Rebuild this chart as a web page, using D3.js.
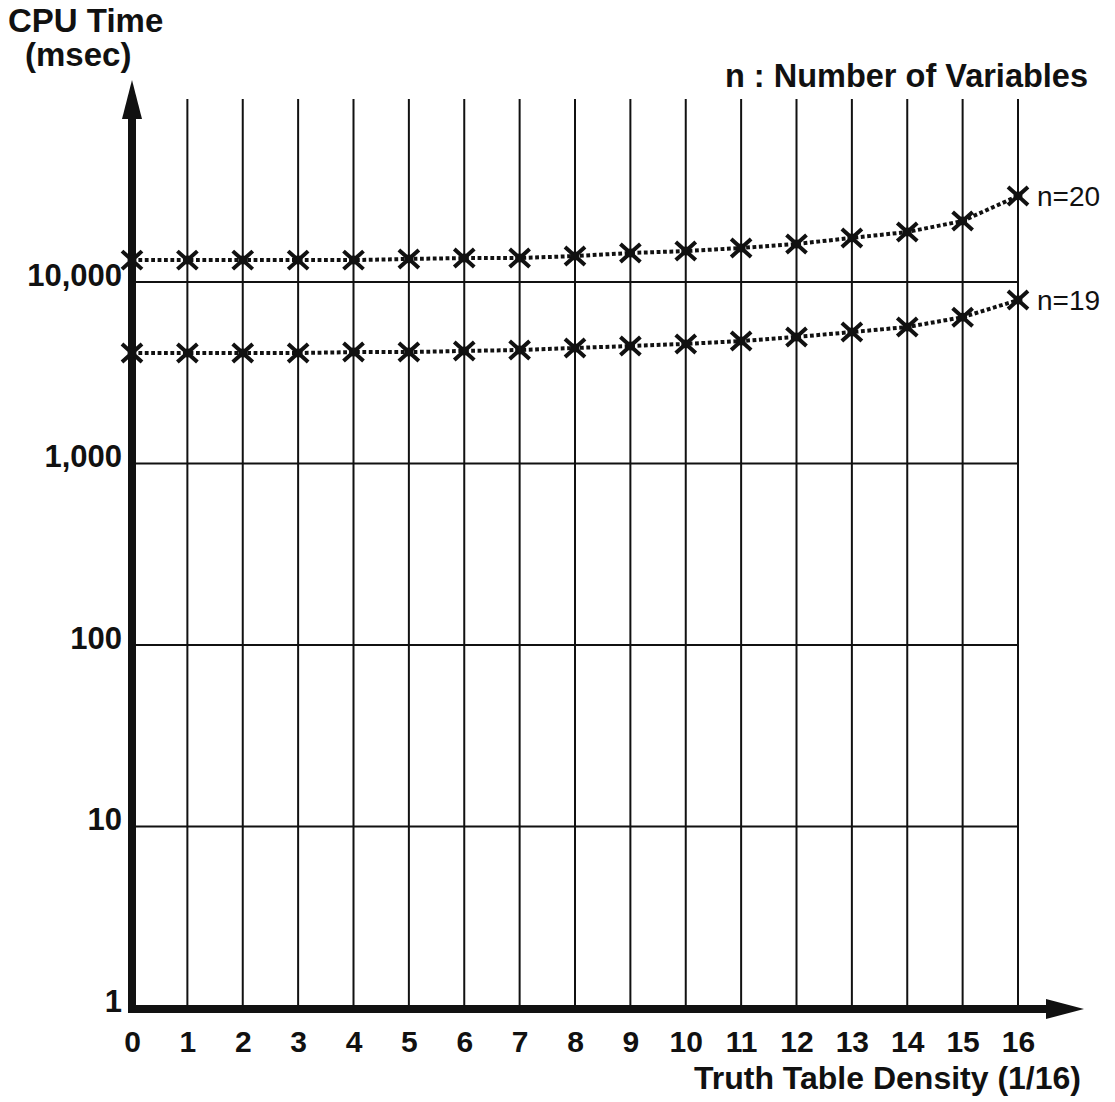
<!DOCTYPE html>
<html>
<head>
<meta charset="utf-8">
<script src="https://cdn.jsdelivr.net/npm/d3@7"></script>
<style>
  body { margin: 0; background: #fff; }
  text { font-family: "Liberation Sans", Arial, Helvetica, sans-serif; fill: #111; }
</style>
</head>
<body>
<div id="chart"></div>
<script>
// density steps (x 1/16)
const density = d3.range(0, 17);
const yTicks = [1, 10, 100, 1000, 10000];
const yTickLabels = ["1", "10", "100", "1,000", "10,000"];

// CPU time in msec
const n20 = [13200, 13200, 13200, 13200, 13200, 13400, 13550, 13550, 13900, 14450, 14800, 15400, 16200, 17500, 18850, 21700, 29800];
const n19 = [4060, 4060, 4060, 4060, 4110, 4110, 4170, 4220, 4330, 4440, 4560, 4730, 4980, 5300, 5650, 6400, 7950];
const seriesNames = ["n=20", "n=19"];

document.addEventListener('DOMContentLoaded', function() {
    const W = 1115, H = 1102;
    const svg = d3.select('#chart').append('svg')
        .attr('width', W)
        .attr('height', H);

    const x = d3.scaleLinear().domain([0, 16]).range([132, 1018]);
    const y = d3.scaleLog().domain([1, 10000]).range([1008, 282]);
    const gridTop = 99;

    // vertical grid
    svg.append('g').selectAll('line')
        .data(density.slice(1))
        .enter().append('line')
        .attr('x1', d => x(d)).attr('x2', d => x(d))
        .attr('y1', gridTop).attr('y2', y(1))
        .attr('stroke', '#111').attr('stroke-width', 2);

    // horizontal grid
    svg.append('g').selectAll('line')
        .data(yTicks.slice(1))
        .enter().append('line')
        .attr('x1', x(0)).attr('x2', x(16))
        .attr('y1', d => y(d)).attr('y2', d => y(d))
        .attr('stroke', '#111').attr('stroke-width', 2);

    // axes (thick, with arrows)
    svg.append('line')
        .attr('x1', x(0)).attr('x2', x(0))
        .attr('y1', y(1) + 4).attr('y2', 112)
        .attr('stroke', '#111').attr('stroke-width', 8);
    svg.append('path')
        .attr('d', `M${x(0)},80 L${x(0) - 10},119 L${x(0) + 10},119 Z`)
        .attr('fill', '#111');
    svg.append('line')
        .attr('x1', x(0) - 4).attr('x2', 1052)
        .attr('y1', y(1) + 1).attr('y2', y(1) + 1)
        .attr('stroke', '#111').attr('stroke-width', 8);
    svg.append('path')
        .attr('d', `M1084,${y(1) + 1} L1046,${y(1) - 9} L1046,${y(1) + 11} Z`)
        .attr('fill', '#111');

    // x tick labels
    const xAxis = svg.append('g')
        .attr('transform', `translate(0,${y(1) + 6})`)
        .call(d3.axisBottom(x).tickValues(density).tickSize(0).tickPadding(0).tickFormat(d3.format('d')));
    xAxis.select('.domain').remove();
    xAxis.selectAll('text')
        .attr('y', 38)
        .attr('dy', null)
        .style('font-size', '30px')
        .style('font-weight', 'bold')
        .attr('fill', '#111');

    // y tick labels
    const yAxis = svg.append('g')
        .attr('transform', `translate(${x(0) - 10},0)`)
        .call(d3.axisLeft(y).tickValues(yTicks).tickSize(0).tickPadding(0)
            .tickFormat((d, i) => yTickLabels[i]));
    yAxis.select('.domain').remove();
    yAxis.selectAll('text')
        .attr('dy', '3px')
        .attr('x', 0)
        .style('font-size', '31px')
        .style('font-weight', 'bold')
        .attr('fill', '#111');

    // series
    const line = d3.line()
        .x((d, i) => x(density[i]))
        .y(d => y(d));

    [n20, n19].forEach((s, k) => {
        svg.append('path')
            .datum(s)
            .attr('d', line)
            .attr('fill', 'none')
            .attr('stroke', '#111')
            .attr('stroke-width', 4)
            .attr('stroke-dasharray', '3.8,2.6');

        const m = svg.append('g').selectAll('g')
            .data(s)
            .enter().append('g')
            .attr('transform', (d, i) => `translate(${x(density[i])},${y(d)})`);
        m.append('path')
            .attr('d', 'M-10,-9 L10,9 M-10,9 L10,-9')
            .attr('stroke', '#111')
            .attr('stroke-width', 4);
        m.append('circle')
            .attr('r', 4.5)
            .attr('fill', '#111');

        svg.append('text')
            .attr('x', x(16) + 19)
            .attr('y', y(s[16]) + 10)
            .style('font-size', '28px')
            .text(seriesNames[k]);
    });

    // titles
    svg.append('text')
        .attr('x', 8).attr('y', 32)
        .style('font-size', '33px').style('font-weight', 'bold')
        .text('CPU Time');
    svg.append('text')
        .attr('x', 25).attr('y', 66)
        .style('font-size', '33px').style('font-weight', 'bold')
        .text('(msec)');
    svg.append('text')
        .attr('x', 1088).attr('y', 87)
        .attr('text-anchor', 'end')
        .style('font-size', '32.5px').style('font-weight', 'bold')
        .text('n : Number of Variables');
    svg.append('text')
        .attr('x', 1081).attr('y', 1089)
        .attr('text-anchor', 'end')
        .style('font-size', '32px').style('font-weight', 'bold')
        .text('Truth Table Density (1/16)');
});
</script>
</body>
</html>
